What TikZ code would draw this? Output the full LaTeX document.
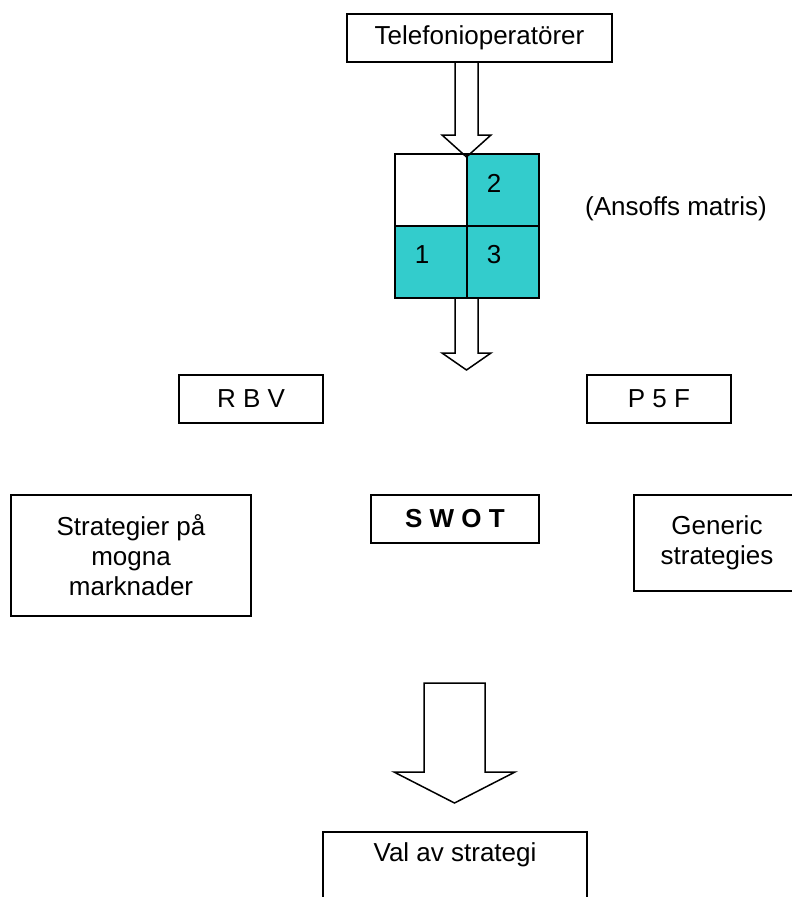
\documentclass[tikz,border=0pt]{standalone}
\usepackage{fontspec}
\setmainfont{Liberation Sans}

\definecolor{ansoff}{HTML}{33CCCC}

% hollow block arrow: centre x, top y, neck y, tip y, half shaft, half head
\newcommand{\blockarrow}[6]{%
	\draw[hollow] (#1-#5,#2) -- (#1-#5,#3) -- (#1-#6,#3) -- (#1,#4)
	-- (#1+#6,#3) -- (#1+#5,#3) -- (#1+#5,#2) -- cycle;
}

\begin{document}
\begin{tikzpicture}[
		x=1pt, y=-1pt,
		every node/.style={font=\fontsize{26}{30}\selectfont},
		box/.style={draw, line width=1.5pt, inner sep=0pt, align=center},
		cell/.style={draw, line width=1.5pt, minimum size=72pt, inner sep=0pt},
		cellnum/.style={inner sep=0pt},
		hollow/.style={draw, line width=1.5pt, line join=miter}
		]
		\useasboundingbox (0,0) rectangle (792,897);
		
		% Top box
		\node[box, minimum width=265pt, minimum height=48pt] (operators) at (479.5,38) {Telefonioperatörer};
		
		% Ansoff matrix
		\foreach \n/\x/\y/\col in {0/431/190/white, 2/503/190/ansoff, 1/431/262/ansoff, 3/503/262/ansoff} {
			\node[cell, fill=\col] (cell\n) at (\x,\y) {};
		}
		\foreach \n in {1,2,3} {
			\node[cellnum] (num\n) at ([xshift=-9pt, yshift=7pt]cell\n.center) {\n};
		}
		\node (ansoffLabel) at (676,209) {(Ansoffs matris)};
		
		% Arrows through the matrix
		\blockarrow{466.5}{62}{135}{157}{11.5}{24.5}
		\blockarrow{466.5}{298}{353}{370}{11.5}{24.5}
		
		% Theory boxes
		\node[box, minimum width=144pt, minimum height=48pt] (rbv) at (251,399) {R B V};
		\node[box, minimum width=144pt, minimum height=48pt] (pfivef) at (659,399) {P 5 F};
		\node[box, minimum width=240pt, minimum height=121pt] (mature) at (131,555.5) {Strategier på\\mogna\\marknader};
		\node[box, minimum width=168pt, minimum height=48pt, font=\fontsize{26}{30}\selectfont\bfseries] (swot) at (455,519) {S W O T};
		\node[box, minimum width=166pt, minimum height=96pt] (generic) at (717,543) {Generic\\strategies};
		
		% Result
		\blockarrow{454.5}{683}{772}{803}{30.5}{60.5}
		\node[box, minimum width=264pt, minimum height=90pt, text depth=50pt] (choice) at (455,877) {Val av strategi};
		
	\end{tikzpicture}
\end{document}
